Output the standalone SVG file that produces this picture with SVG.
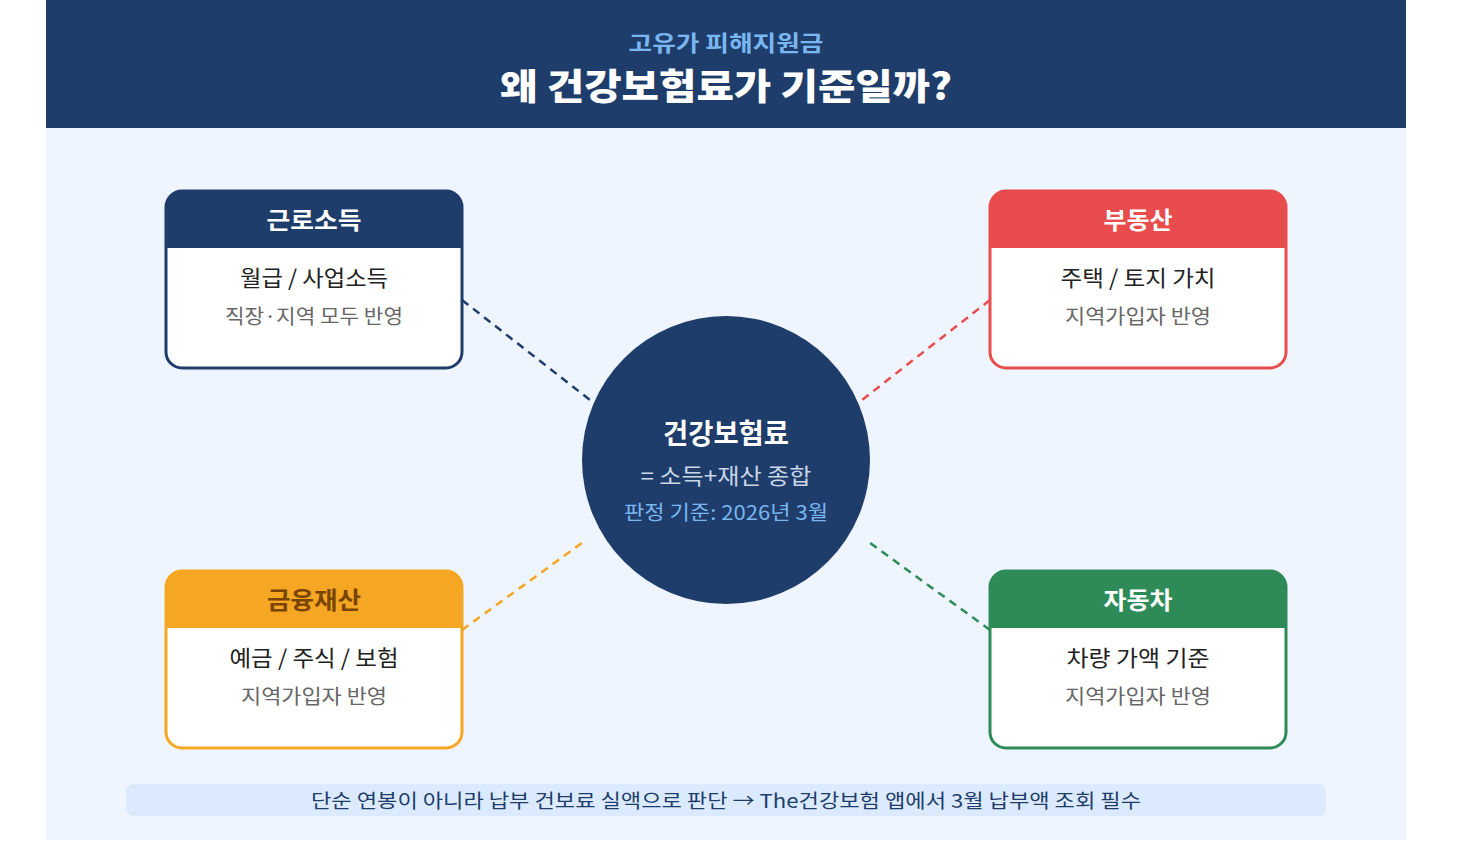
<svg xmlns="http://www.w3.org/2000/svg" width="1472" height="860" viewBox="0 0 1472 860">
<style>
text{font-family:"Noto Sans CJK KR","Noto Sans",sans-serif;text-anchor:middle}
.h1{font-size:22px;font-weight:700;fill:#7ab6f0}
.h2{font-size:36px;font-weight:900;fill:#ffffff}
.ct{font-size:24px;font-weight:700;fill:#ffffff}
.cb{font-size:22px;fill:#222222}
.cs{font-size:20px;fill:#666666}
.box{fill:#ffffff;stroke-width:3}
.conn{fill:none;stroke-width:2.5;stroke-dasharray:8 6}
</style>
<rect x="0" y="0" width="1472" height="860" fill="#ffffff"/>
<rect x="46" y="128" width="1360" height="712" fill="#eef5ff"/>
<g id="header">
<rect x="46" y="0" width="1360" height="128" fill="#1e3d6b"/>
<text class="h1" x="726" y="51" textLength="195" lengthAdjust="spacingAndGlyphs">고유가 피해지원금</text>
<text class="h2" x="726" y="100" textLength="452" lengthAdjust="spacingAndGlyphs">왜 건강보험료가 기준일까?</text>
</g>
<g id="connectors">
<line class="conn" x1="462" y1="300" x2="590" y2="400" stroke="#1e3d6b"/>
<line class="conn" x1="990" y1="300" x2="862" y2="400" stroke="#e84c4c"/>
<line class="conn" x1="462" y1="630" x2="586" y2="540" stroke="#f5a623"/>
<line class="conn" x1="990" y1="630" x2="866" y2="540" stroke="#2e8b57"/>
</g>
<g id="node-income">
<rect class="box" x="166" y="191" width="296" height="177" rx="16" stroke="#1e3d6b"/>
<path d="M166 248 V207 A16 16 0 0 1 182 191 H446 A16 16 0 0 1 462 207 V248 Z" fill="#1e3d6b"/>
<text class="ct" x="314" y="229" textLength="95" lengthAdjust="spacingAndGlyphs">근로소득</text>
<text class="cb" x="314" y="286" textLength="148" lengthAdjust="spacingAndGlyphs">월급 / 사업소득</text>
<text class="cs" x="314" y="324" textLength="178" lengthAdjust="spacingAndGlyphs">직장·지역 모두 반영</text>
</g>
<g id="node-realestate">
<rect class="box" x="990" y="191" width="296" height="177" rx="16" stroke="#e84c4c"/>
<path d="M990 248 V207 A16 16 0 0 1 1006 191 H1270 A16 16 0 0 1 1286 207 V248 Z" fill="#e84c4c"/>
<text class="ct" x="1138" y="229" textLength="69" lengthAdjust="spacingAndGlyphs">부동산</text>
<text class="cb" x="1138" y="286" textLength="155" lengthAdjust="spacingAndGlyphs">주택 / 토지 가치</text>
<text class="cs" x="1138" y="324" textLength="146" lengthAdjust="spacingAndGlyphs">지역가입자 반영</text>
</g>
<g id="node-finance">
<rect class="box" x="166" y="571" width="296" height="177" rx="16" stroke="#f5a623"/>
<path d="M166 628 V587 A16 16 0 0 1 182 571 H446 A16 16 0 0 1 462 587 V628 Z" fill="#f5a623"/>
<text class="ct" x="314" y="609" textLength="94" lengthAdjust="spacingAndGlyphs" style="fill:#7a4500">금융재산</text>
<text class="cb" x="314" y="666" textLength="169" lengthAdjust="spacingAndGlyphs">예금 / 주식 / 보험</text>
<text class="cs" x="314" y="704" textLength="146" lengthAdjust="spacingAndGlyphs">지역가입자 반영</text>
</g>
<g id="node-car">
<rect class="box" x="990" y="571" width="296" height="177" rx="16" stroke="#2e8b57"/>
<path d="M990 628 V587 A16 16 0 0 1 1006 571 H1270 A16 16 0 0 1 1286 587 V628 Z" fill="#2e8b57"/>
<text class="ct" x="1138" y="609" textLength="69" lengthAdjust="spacingAndGlyphs">자동차</text>
<text class="cb" x="1138" y="666" textLength="143" lengthAdjust="spacingAndGlyphs">차량 가액 기준</text>
<text class="cs" x="1138" y="704" textLength="146" lengthAdjust="spacingAndGlyphs">지역가입자 반영</text>
</g>
<g id="node-center">
<circle cx="726" cy="460" r="144" fill="#1e3d6b"/>
<text x="726" y="444" textLength="126" lengthAdjust="spacingAndGlyphs" style="font-size:28px;font-weight:700;fill:#ffffff">건강보험료</text>
<text x="726" y="484" textLength="171" lengthAdjust="spacingAndGlyphs" style="font-size:22px;fill:#c9d6e8">= 소득+재산 종합</text>
<text x="726" y="520" textLength="204" lengthAdjust="spacingAndGlyphs" style="font-size:20px;fill:#7ab6f0">판정 기준: 2026년 3월</text>
</g>
<g id="footer">
<rect x="126" y="784" width="1200" height="32" rx="7" fill="#dbeafe"/>
<text x="726" y="808" textLength="830" lengthAdjust="spacingAndGlyphs" style="font-size:19px;fill:#1e3d6b">단순 연봉이 아니라 납부 건보료 실액으로 판단 → The건강보험 앱에서 3월 납부액 조회 필수</text>
</g>
</svg>
